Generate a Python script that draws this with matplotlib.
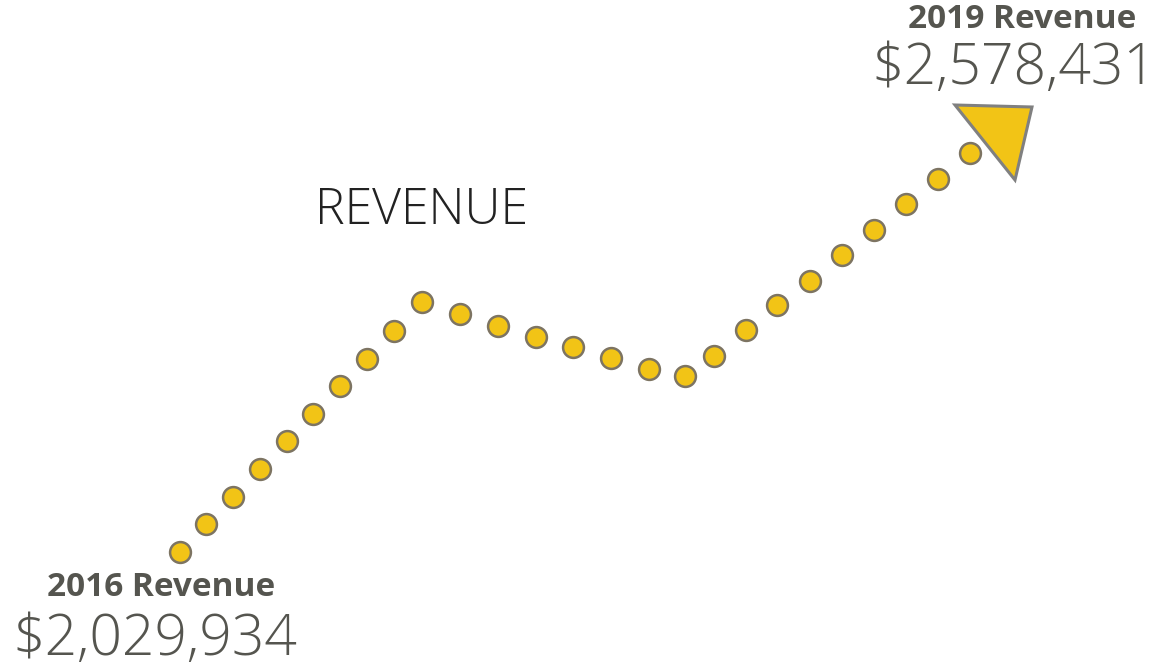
import matplotlib.pyplot as plt
from matplotlib.patches import Polygon

# dot path (pixel-like chart units, y grows downward)
dot_x = [180, 206, 233, 260, 287, 313, 340, 367, 394, 422, 460, 498, 536,
         573, 611, 649, 685, 714, 746, 777, 810, 842, 874, 906, 938, 970]
dot_y = [552, 524, 497, 469, 441, 414, 386, 359, 331, 302, 314, 326, 337,
         347, 358, 369, 376, 356, 330, 305, 281, 255, 230, 204, 179, 153]
arrow_x = [955, 1032, 1015]
arrow_y = [105, 107, 180]

start_label = '2016 Revenue'
start_value = '$2,029,934'
end_label = '2019 Revenue'
end_value = '$2,578,431'
title = 'REVENUE'

yellow = '#f2c416'
edge = '#7d7462'
text_gray = '#55554f'
fam = 'Open Sans'

fig = plt.figure(figsize=(11.58, 6.70), dpi=100)
ax = fig.add_axes([0, 0, 1, 1])
ax.set_xlim(0, 1158)
ax.set_ylim(670, 0)
ax.axis('off')

ax.plot(dot_x, dot_y, 'o', ms=15, mfc=yellow, mec=edge, mew=1.8, ls='none')
ax.add_patch(Polygon(list(zip(arrow_x, arrow_y)), closed=True, fc=yellow,
                     ec='#808080', lw=2.2, joinstyle='miter'))

ax.text(161, 588, start_label, fontsize=24, fontweight='bold', family=fam,
        color=text_gray, ha='center', va='center')
ax.text(155, 640, start_value, fontsize=41, fontweight='light', family=fam,
        color=text_gray, ha='center', va='center')
ax.text(1022, 20, end_label, fontsize=24, fontweight='bold', family=fam,
        color=text_gray, ha='center', va='center')
ax.text(1014, 69, end_value, fontsize=41, fontweight='light', family=fam,
        color=text_gray, ha='center', va='center')
ax.text(421, 211, title, fontsize=36, fontweight='light', family=fam,
        color='#222222', ha='center', va='center')

fig.savefig('out.png', dpi=100)
